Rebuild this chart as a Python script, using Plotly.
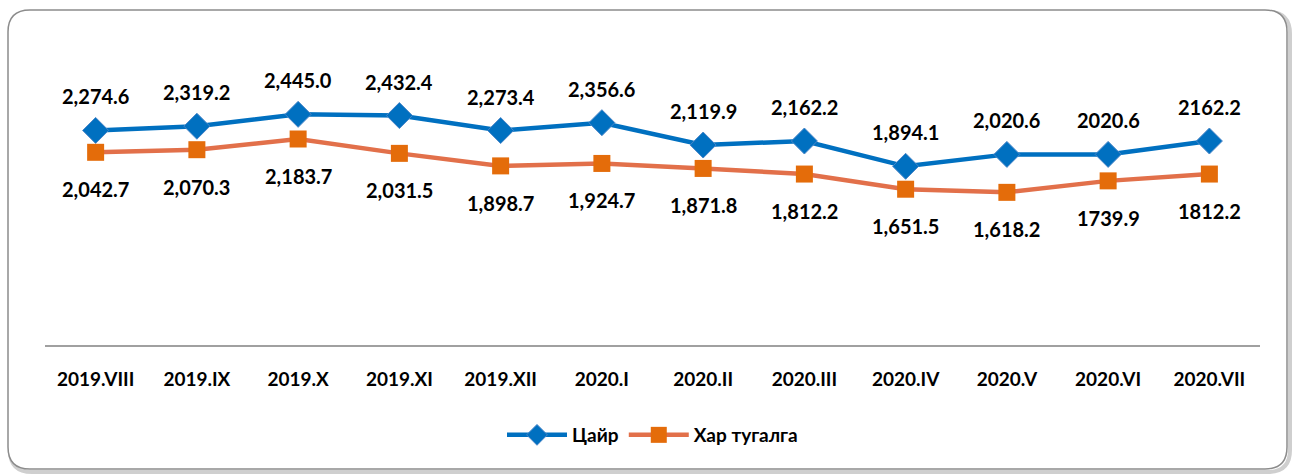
import plotly.graph_objects as go

categories = ["2019.VIII", "2019.IX", "2019.X", "2019.XI", "2019.XII", "2020.I",
              "2020.II", "2020.III", "2020.IV", "2020.V", "2020.VI", "2020.VII"]
tsai = [2274.6, 2319.2, 2445.0, 2432.4, 2273.4, 2356.6, 2119.9, 2162.2, 1894.1, 2020.6, 2020.6, 2162.2]
tsai_labels = ["2,274.6", "2,319.2", "2,445.0", "2,432.4", "2,273.4", "2,356.6", "2,119.9",
               "2,162.2", "1,894.1", "2,020.6", "2020.6", "2162.2"]
khar = [2042.7, 2070.3, 2183.7, 2031.5, 1898.7, 1924.7, 1871.8, 1812.2, 1651.5, 1618.2, 1739.9, 1812.2]
khar_labels = ["2,042.7", "2,070.3", "2,183.7", "2,031.5", "1,898.7", "1,924.7", "1,871.8",
               "1,812.2", "1,651.5", "1,618.2", "1739.9", "1812.2"]

W, H = 1293, 476
ML, MR, MT, MB = 45, 33, 62, 131
FONT = "Lato"

fig = go.Figure()
fig.add_trace(go.Scatter(
    x=categories, y=tsai, name="Цайр", mode="lines+markers",
    line=dict(color="#0070C0", width=4.5),
    marker=dict(symbol="diamond", size=20, color="#0070C0", line=dict(color="#4A86C8", width=1)),
))
fig.add_trace(go.Scatter(
    x=categories, y=khar, name="Хар тугалга", mode="lines+markers",
    line=dict(color="#E2704A", width=4.5),
    marker=dict(symbol="square", size=17, color="#E46C0A", line=dict(width=0)),
))

for c, v, t in zip(categories, tsai, tsai_labels):
    fig.add_annotation(x=c, y=v, text=t, showarrow=False, yshift=34,
                       font=dict(family=FONT, size=20, color="black", weight="bold"))
for c, v, t in zip(categories, khar, khar_labels):
    fig.add_annotation(x=c, y=v, text=t, showarrow=False, yshift=-37,
                       font=dict(family=FONT, size=20, color="black", weight="bold"))

# rounded frame (pixel -> paper conversion)
pw, ph = W - ML - MR, H - MT - MB
def px(x):
    return (x - ML) / pw
def py(y):
    return 1 - (y - MT) / ph
def frame(x0, y0, x1, y1, r):
    return (f"M {px(x0+r)},{py(y0)} L {px(x1-r)},{py(y0)} "
            f"Q {px(x1)},{py(y0)} {px(x1)},{py(y0+r)} "
            f"L {px(x1)},{py(y1-r)} Q {px(x1)},{py(y1)} {px(x1-r)},{py(y1)} "
            f"L {px(x0+r)},{py(y1)} Q {px(x0)},{py(y1)} {px(x0)},{py(y1-r)} "
            f"L {px(x0)},{py(y0+r)} Q {px(x0)},{py(y0)} {px(x0+r)},{py(y0)} Z")
fig.add_shape(type="path", xref="paper", yref="paper", path=frame(10, 12, 1290, 472, 22),
              line=dict(color="#CFCFCF", width=4), layer="below")
fig.add_shape(type="path", xref="paper", yref="paper", path=frame(8, 10, 1287, 469, 22),
              line=dict(color="#8C8C8C", width=1.5), fillcolor="white", layer="below")

fig.update_layout(
    width=W, height=H,
    margin=dict(l=ML, r=MR, t=MT, b=MB),
    paper_bgcolor="white", plot_bgcolor="rgba(0,0,0,0)",
    showlegend=True,
    legend=dict(orientation="h", x=0.5, xanchor="center", y=py(435), yanchor="middle",
                font=dict(family=FONT, size=19, color="black", weight="bold"),
                bgcolor="rgba(0,0,0,0)", itemwidth=60),
    xaxis=dict(range=[-0.5, 11.5], showgrid=False, showline=True, linecolor="#A0A0A0",
               linewidth=1.5, ticks="", ticklabelstandoff=16,
               tickfont=dict(family=FONT, size=19, color="black", weight="bold")),
    yaxis=dict(range=[0, 3000], visible=False, showgrid=False),
)

fig.write_html("out.html", config={"displayModeBar": False},
               post_script="document.body.style.margin='0';")
